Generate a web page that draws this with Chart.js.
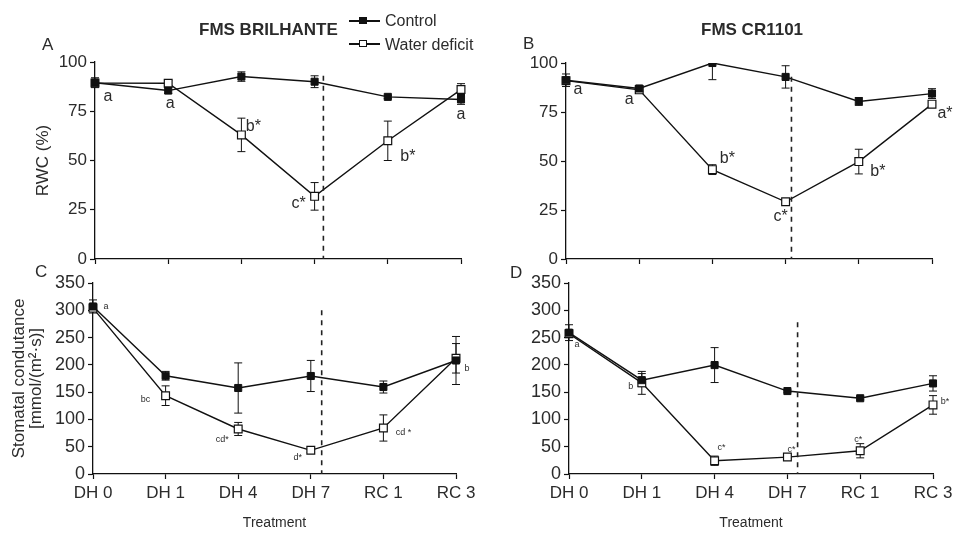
<!DOCTYPE html>
<html>
<head>
<meta charset="utf-8">
<script src="https://cdn.jsdelivr.net/npm/chart.js@4.4.0/dist/chart.umd.min.js"></script>
<style>
    body { margin: 0; background: #fff; width: 960px; height: 535px; overflow: hidden; position: relative;
           font-family: "Liberation Sans", Arial, sans-serif; color: #2b2b2b; }
    canvas { position: absolute; left: 0; top: 0; }
    .txt { position: absolute; white-space: nowrap; line-height: 1; }
    .title { font-weight: bold; }
    .legLine { position: absolute; height: 1.5px; width: 31px; background: #111; }
    .legBox { position: absolute; width: 6px; height: 5px; border: 1px solid #111; }
</style>
</head>
<body>
<canvas id="chartA" width="960" height="535"></canvas>
<canvas id="chartB" width="960" height="535"></canvas>
<canvas id="chartC" width="960" height="535"></canvas>
<canvas id="chartD" width="960" height="535"></canvas>

<div class="txt title" style="left:199px; top:21px; font-size:17px;">FMS BRILHANTE</div>
<div class="txt title" style="left:701px; top:21px; font-size:17px;">FMS CR1101</div>

<div class="txt" style="left:42px; top:36px; font-size:17px;">A</div>
<div class="txt" style="left:523px; top:35px; font-size:17px;">B</div>
<div class="txt" style="left:35px; top:263px; font-size:17px;">C</div>
<div class="txt" style="left:510px; top:264px; font-size:17px;">D</div>

<!-- Legend -->
<div class="legLine" style="left:349px; top:20px;"></div>
<div class="legBox" style="left:359px; top:17px; background:#111;"></div>
<div class="txt" style="left:385px; top:13px; font-size:16px;">Control</div>
<div class="legLine" style="left:349px; top:43px;"></div>
<div class="legBox" style="left:359px; top:40px; background:#fff;"></div>
<div class="txt" style="left:385px; top:37px; font-size:16px;">Water deficit</div>

<script>
const treatments = ['DH 0', 'DH 1', 'DH 4', 'DH 7', 'RC 1', 'RC 3'];

// RWC (%) - FMS BRILHANTE
const rwcBrilControl = [89.5, 85.5, 92.6, 90.0, 82.3, 81.0];
const rwcBrilControlErr = [2.5, 1.5, 2.4, 3.0, 0.8, 2.5];
const rwcBrilDeficit = [89.3, 89.2, 63.0, 31.8, 60.0, 86.0];
const rwcBrilDeficitErr = [1.5, 1.5, 8.5, 7.0, 10.0, 3.0];
const rwcBrilLetters = ['a', 'a', 'b*', 'c*', 'b*', 'a'];

// RWC (%) - FMS CR1101
const rwcCrControl = [91.2, 87.0, 100.0, 92.9, 80.4, 84.4];
const rwcCrControlErr = [3.2, 1.5, 8.5, 5.7, 2.0, 2.5];
const rwcCrDeficit = [91.0, 86.3, 45.6, 29.2, 49.7, 79.0];
const rwcCrDeficitErr = [1.0, 1.5, 2.5, 1.0, 6.3, 1.0];
const rwcCrLetters = ['a', 'a', 'b*', 'c*', 'b*', 'a*'];

// Stomatal conductance - FMS BRILHANTE
const gsBrilControl = [307, 180, 157.6, 179.6, 159.4, 208];
const gsBrilControlErr = [12, 8, 46, 28.5, 11, 44];
const gsBrilDeficit = [304, 143.5, 82.5, 43.4, 84.3, 212];
const gsBrilDeficitErr = [5, 18, 12, 4, 24, 27];
const gsBrilLetters = ['a', 'bc', 'cd*', 'd*', 'cd *', 'b'];

// Stomatal conductance - FMS CR1101
const gsCrControl = [259, 172, 199.6, 152, 138.8, 166];
const gsCrControlErr = [14.5, 12, 32, 2, 3, 14];
const gsCrDeficit = [257, 167, 24.3, 31, 42.6, 126.6];
const gsCrDeficitErr = [4, 21, 8.5, 3, 13, 17];
const gsCrLetters = ['a', 'b', 'c*', 'c*', 'c*', 'b*'];

const FONT = '"Liberation Sans", Arial, sans-serif';
const INK = '#111';
const TEXT = '#2b2b2b';

// vertical error bars, drawn under the points
const errorBars = {
    id: 'errorBars',
    beforeDatasetsDraw(chart) {
        const ctx = chart.ctx, area = chart.chartArea;
        const yScale = chart.scales.y;
        ctx.save();
        ctx.beginPath();
        ctx.rect(area.left - 10, area.top, area.right - area.left + 20, area.bottom - area.top);
        ctx.clip();
        ctx.strokeStyle = INK;
        ctx.lineWidth = 1;
        chart.data.datasets.forEach((ds, di) => {
            const meta = chart.getDatasetMeta(di);
            meta.data.forEach((pt, i) => {
                const v = ds.data[i], e = ds.errors[i];
                const yTop = yScale.getPixelForValue(v + e);
                const yBot = yScale.getPixelForValue(v - e);
                ctx.beginPath();
                ctx.moveTo(pt.x, yTop); ctx.lineTo(pt.x, yBot);
                ctx.moveTo(pt.x - 4, yTop); ctx.lineTo(pt.x + 4, yTop);
                ctx.moveTo(pt.x - 4, yBot); ctx.lineTo(pt.x + 4, yBot);
                ctx.stroke();
            });
        });
        ctx.restore();
    }
};

// dashed divider between dehydration and recovery, plus significance letters
const extras = {
    id: 'extras',
    afterDatasetsDraw(chart, args, opts) {
        const ctx = chart.ctx;
        const x = chart.scales.x, y = chart.scales.y;
        ctx.save();
        ctx.strokeStyle = '#222';
        ctx.lineWidth = 1.6;
        ctx.setLineDash([5, 5]);
        const dx = x.getPixelForValue(opts.divider);
        ctx.beginPath();
        ctx.moveTo(dx, y.getPixelForValue(opts.dividerTop));
        ctx.lineTo(dx, y.getPixelForValue(0));
        ctx.stroke();
        ctx.setLineDash([]);

        ctx.fillStyle = TEXT;
        ctx.font = opts.letterSize + 'px ' + FONT;
        ctx.textAlign = 'center';
        ctx.textBaseline = 'middle';
        const meta = chart.getDatasetMeta(1);
        opts.letters.forEach((t, i) => {
            const pt = meta.data[i];
            const off = opts.offsets[i];
            ctx.fillText(t, pt.x + off[0], pt.y + off[1]);
        });
        ctx.restore();
    }
};

function drawPanel(cfg) {
    const ctx = document.getElementById(cfg.id).getContext('2d');
    new Chart(ctx, {
        type: 'line',
        data: {
            labels: treatments,
            datasets: [
                {
                    label: 'Control',
                    data: cfg.control,
                    errors: cfg.controlErr,
                    borderColor: INK,
                    backgroundColor: INK,
                    borderWidth: 1.4,
                    pointStyle: 'rect',
                    pointRadius: 5,
                    pointBackgroundColor: INK,
                    pointBorderColor: INK,
                    pointBorderWidth: 1,
                    tension: 0
                },
                {
                    label: 'Water deficit',
                    data: cfg.deficit,
                    errors: cfg.deficitErr,
                    borderColor: INK,
                    backgroundColor: '#fff',
                    borderWidth: 1.4,
                    pointStyle: 'rect',
                    pointRadius: 5.5,
                    pointBackgroundColor: '#fff',
                    pointBorderColor: INK,
                    pointBorderWidth: 1.2,
                    tension: 0
                }
            ]
        },
        options: {
            responsive: false,
            animation: false,
            events: [],
            layout: { padding: { left: 0, top: cfg.area.top, right: 960 - cfg.area.right, bottom: 0 } },
            plugins: {
                legend: { display: false },
                tooltip: { enabled: false },
                extras: {
                    divider: cfg.divider,
                    dividerTop: cfg.dividerTop,
                    letters: cfg.letters,
                    offsets: cfg.offsets,
                    letterSize: cfg.letterSize
                }
            },
            scales: {
                x: {
                    type: 'category',
                    offset: false,
                    grid: { display: true, drawOnChartArea: false, drawTicks: true, tickLength: 5, tickColor: INK, tickWidth: 1.2 },
                    border: { display: true, color: INK, width: 1.3 },
                    ticks: { display: cfg.showX, color: TEXT, font: { size: 17, family: FONT }, padding: 4, maxRotation: 0, autoSkip: false },
                    title: {
                        display: cfg.showX,
                        text: 'Treatment',
                        color: TEXT,
                        font: { size: 14, family: FONT },
                        padding: { top: 4, bottom: 3 }
                    },
                    afterFit: s => { s.height = 535 - cfg.area.bottom; }
                },
                y: {
                    min: 0,
                    max: cfg.yMax,
                    grid: { display: true, drawOnChartArea: false, drawTicks: true, tickLength: 5, tickColor: INK, tickWidth: 1.2 },
                    border: { display: true, color: INK, width: 1.3 },
                    ticks: { stepSize: cfg.yStep, color: TEXT, font: { size: cfg.tickSize, family: FONT }, padding: 3 },
                    title: {
                        display: !!cfg.yTitle,
                        text: cfg.yTitle,
                        color: TEXT,
                        font: { size: 17, family: FONT, lineHeight: cfg.yTitleLine },
                        padding: { top: cfg.yTitlePad, bottom: 0 }
                    },
                    afterFit: s => { s.width = cfg.area.left; }
                }
            }
        },
        plugins: [errorBars, extras]
    });
}

drawPanel({
    id: 'chartA',
    control: rwcBrilControl, controlErr: rwcBrilControlErr,
    deficit: rwcBrilDeficit, deficitErr: rwcBrilDeficitErr,
    letters: rwcBrilLetters,
    offsets: [[13, 14], [2, 20], [12, -8], [-16, 7], [20, 16], [0, 25]],
    letterSize: 16,
    area: { left: 95, right: 461, top: 62, bottom: 259 },
    yMax: 100, yStep: 25, tickSize: 17,
    yTitle: 'RWC (%)', yTitleLine: 1.2, yTitlePad: 33,
    showX: false,
    divider: 3.12, dividerTop: 93
});

drawPanel({
    id: 'chartB',
    control: rwcCrControl, controlErr: rwcCrControlErr,
    deficit: rwcCrDeficit, deficitErr: rwcCrDeficitErr,
    letters: rwcCrLetters,
    offsets: [[12, 9], [-10, 10], [15, -11], [-5, 15], [19, 10], [13, 9]],
    letterSize: 16,
    area: { left: 566, right: 932, top: 63, bottom: 259 },
    yMax: 100, yStep: 25, tickSize: 17,
    yTitle: '', yTitleLine: 1.2, yTitlePad: 0,
    showX: false,
    divider: 3.08, dividerTop: 93
});

drawPanel({
    id: 'chartC',
    control: gsBrilControl, controlErr: gsBrilControlErr,
    deficit: gsBrilDeficit, deficitErr: gsBrilDeficitErr,
    letters: gsBrilLetters,
    offsets: [[13, -2], [-20, 4], [-16, 11], [-13, 7], [20, 5], [11, 10]],
    letterSize: 9,
    area: { left: 93, right: 456, top: 283, bottom: 474 },
    yMax: 350, yStep: 50, tickSize: 18,
    yTitle: ['Stomatal condutance', '[mmol/(m²·s)]'], yTitleLine: 1.0, yTitlePad: 10.5,
    showX: true,
    divider: 3.15, dividerTop: 300
});

drawPanel({
    id: 'chartD',
    control: gsCrControl, controlErr: gsCrControlErr,
    deficit: gsCrDeficit, deficitErr: gsCrDeficitErr,
    letters: gsCrLetters,
    offsets: [[8, 11], [-11, 4], [7, -13], [4, -8], [-2, -11], [12, -3]],
    letterSize: 9,
    area: { left: 569, right: 933, top: 283, bottom: 474 },
    yMax: 350, yStep: 50, tickSize: 18,
    yTitle: '', yTitleLine: 1.2, yTitlePad: 0,
    showX: true,
    divider: 3.14, dividerTop: 278
});
</script>
</body>
</html>
